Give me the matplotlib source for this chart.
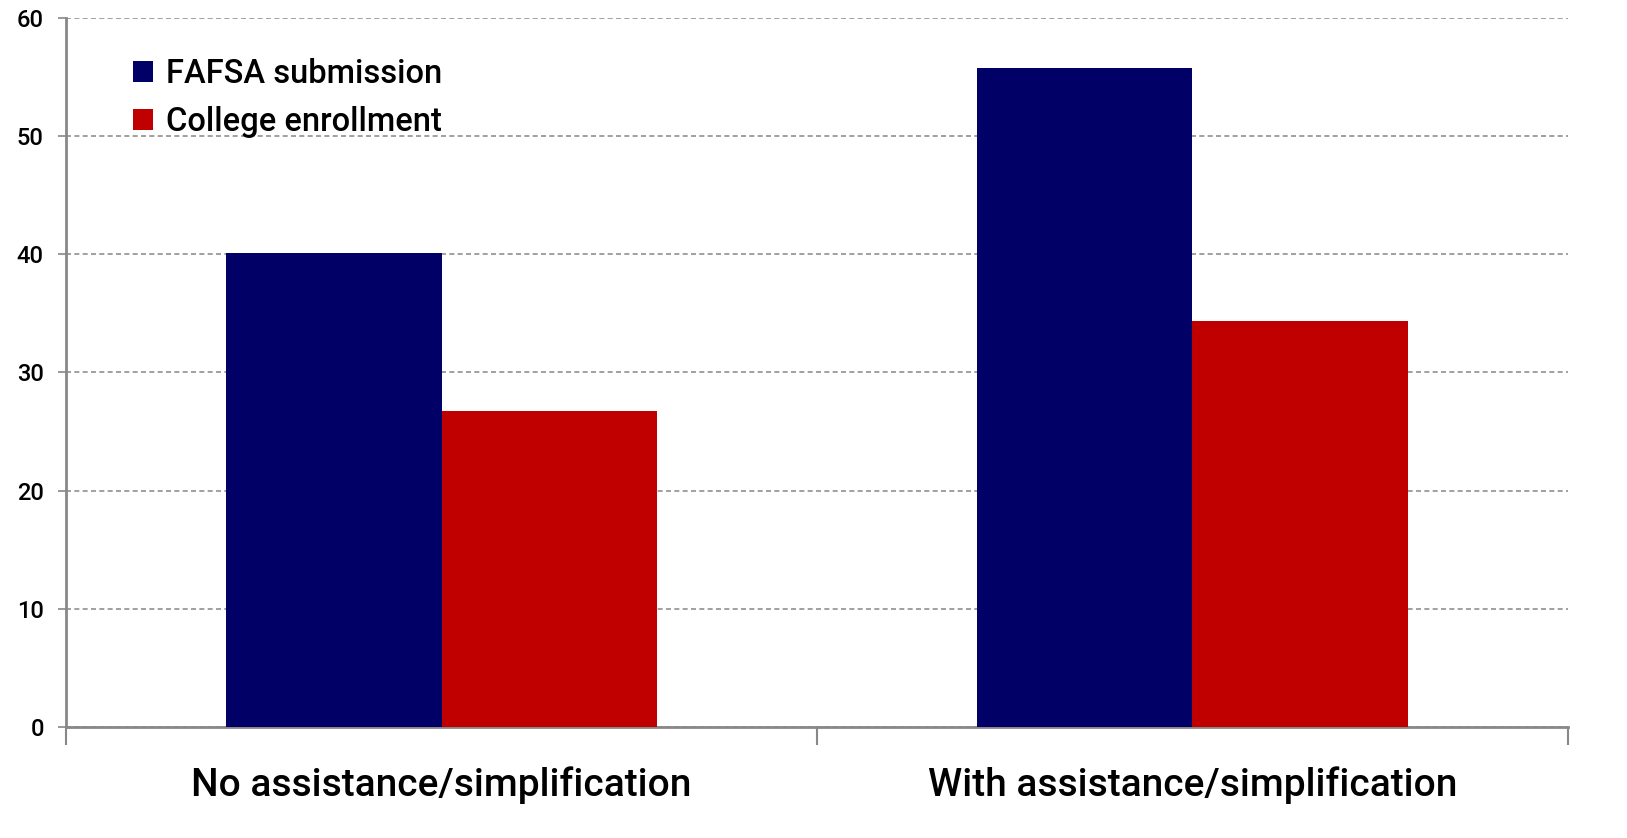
import numpy as np
import matplotlib.pyplot as plt
from matplotlib.ticker import FixedLocator

categories = ['No assistance/simplification', 'With assistance/simplification']
fafsa = [40.1, 55.8]
enrollment = [26.7, 34.4]
series_names = ['FAFSA submission', 'College enrollment']

plt.rcParams['font.family'] = ['Roboto', 'DejaVu Sans']
plt.rcParams['font.weight'] = 'medium'

fig = plt.figure(figsize=(16.27, 8.38), dpi=100)
ax = fig.add_axes([0.0406, 0.1325, 0.9231, 0.846])

x = np.arange(len(categories))
w = 0.287
ax.bar(x - w / 2, fafsa, w, color='#000066', label=series_names[0], zorder=3)
ax.bar(x + w / 2, enrollment, w, color='#C00000', label=series_names[1], zorder=3)

ax.set_xlim(-0.5, 1.5)
ax.set_ylim(0, 60)
ax.set_yticks(np.arange(0, 61, 10))
ax.yaxis.grid(True, linestyle=(0, (3, 2)), color='#909090', linewidth=1.2, zorder=0)
ax.set_axisbelow(True)

ax.set_xticks(x)
ax.set_xticklabels(categories, fontsize=28)
ax.xaxis.set_minor_locator(FixedLocator([-0.5, 0.5, 1.5]))
ax.tick_params(axis='x', which='major', length=0, pad=28)
ax.tick_params(axis='x', which='minor', length=13, color='#888888', width=1.5)
ax.tick_params(axis='y', length=6, color='#888888', width=1.2, labelsize=17, pad=10)

for s in ['top', 'right']:
    ax.spines[s].set_visible(False)
for s in ['left', 'bottom']:
    ax.spines[s].set_color('#888888')
    ax.spines[s].set_linewidth(2)

ax.legend(loc='upper left', bbox_to_anchor=(0.025, 0.985), frameon=False, fontsize=23.5,
          handlelength=0.6, handleheight=0.6, handletextpad=0.4, labelspacing=0.5)

fig.savefig('out.png', dpi=100)
